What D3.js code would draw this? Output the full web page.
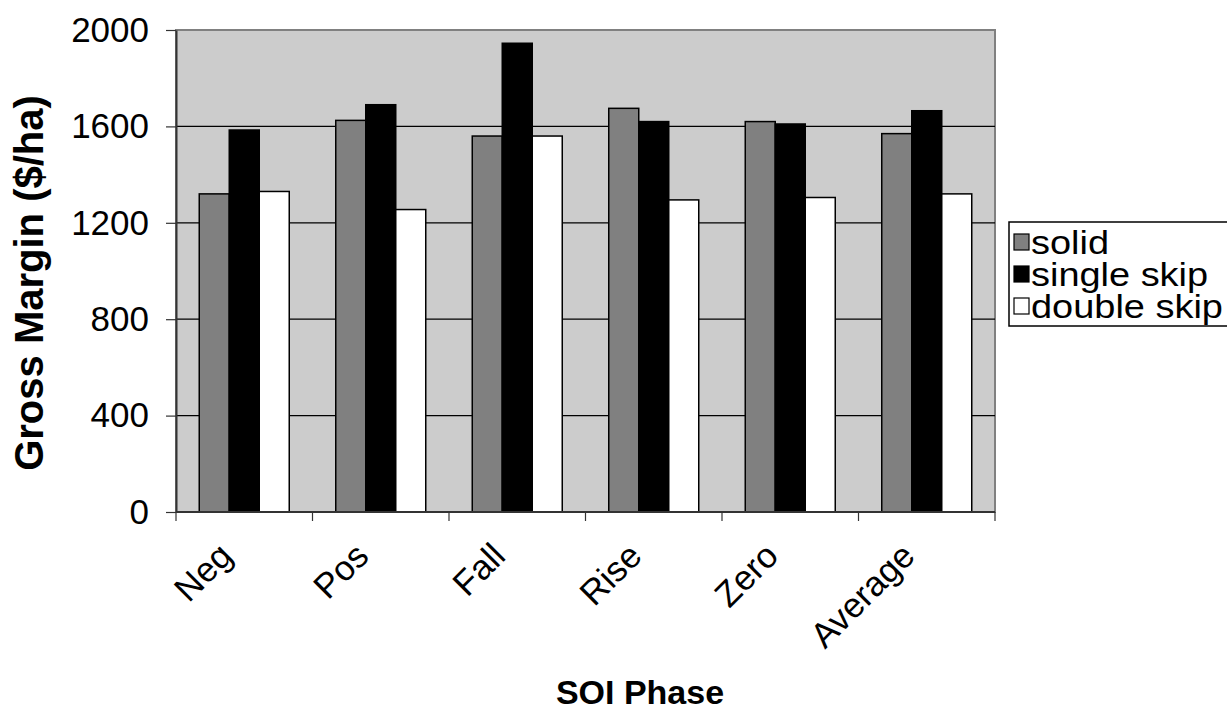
<!DOCTYPE html>
<html>
<head>
<meta charset="utf-8">
<script src="https://cdn.jsdelivr.net/npm/d3@7"></script>
<style>
  body { margin: 0; background: #fff; }
  svg text { font-family: "Liberation Sans", Arial, sans-serif; fill: #000; }
</style>
</head>
<body>
<script>
// SOI phases and gross margin by row configuration
const phases = ["Neg", "Pos", "Fall", "Rise", "Zero", "Average"];
const seriesNames = ["solid", "single skip", "double skip"];
const solid = [1320, 1625, 1560, 1675, 1620, 1570];
const singleSkip = [1585, 1690, 1945, 1620, 1610, 1665];
const doubleSkip = [1330, 1255, 1560, 1295, 1305, 1320];
const yTicks = [0, 400, 800, 1200, 1600, 2000];
const colors = ["#808080", "#000000", "#ffffff"];

const w = 1227, h = 710;
const plotL = 176, plotR = 995, plotT = 30, plotB = 512;

const svg = d3.select("body").append("svg")
  .attr("width", w).attr("height", h);

const rows = phases.map((p, i) => ({phase: p, vals: [solid[i], singleSkip[i], doubleSkip[i]]}));

const x0 = d3.scaleBand().domain(phases).range([plotL, plotR]).padding(0);
const x1 = d3.scaleBand().domain(seriesNames).range([0, x0.bandwidth()])
  .paddingInner(0).paddingOuter(0.775);
const y = d3.scaleLinear().domain([0, 2000]).range([plotB, plotT]);

// plot background
svg.append("rect")
  .attr("x", plotL).attr("y", plotT)
  .attr("width", plotR - plotL).attr("height", plotB - plotT)
  .attr("fill", "#cccccc").attr("stroke", "#808080").attr("stroke-width", 2);

// grid lines
svg.append("g").selectAll("line")
  .data(yTicks.filter(t => t > 0 && t < 2000))
  .enter().append("line")
  .attr("x1", plotL).attr("x2", plotR)
  .attr("y1", d => y(d)).attr("y2", d => y(d))
  .attr("stroke", "#000").attr("stroke-width", 1.2);

// bars
const groups = svg.append("g").selectAll("g")
  .data(rows).enter().append("g")
  .attr("transform", d => "translate(" + x0(d.phase) + ",0)");
groups.selectAll("rect")
  .data(d => d.vals.map((v, j) => ({name: seriesNames[j], v: v, c: colors[j]})))
  .enter().append("rect")
  .attr("x", d => x1(d.name))
  .attr("y", d => y(d.v))
  .attr("width", x1.bandwidth())
  .attr("height", d => y(0) - y(d.v))
  .attr("fill", d => d.c)
  .attr("stroke", "#000").attr("stroke-width", 1.5);

// y axis
const yAxis = svg.append("g")
  .attr("transform", "translate(" + plotL + ",0)")
  .call(d3.axisLeft(y).tickValues(yTicks).tickFormat(d3.format("d"))
    .tickSize(10).tickSizeOuter(0).tickPadding(17));
yAxis.select(".domain").attr("stroke", "#333").attr("stroke-width", 2);
yAxis.selectAll(".tick line").attr("stroke", "#333").attr("stroke-width", 1.2);
yAxis.selectAll("text").style("font-size", "35px").attr("fill", "#000");

// x axis: ticks at category boundaries
const xAxis = svg.append("g")
  .attr("transform", "translate(0," + plotB + ")");
xAxis.append("line").attr("x1", plotL).attr("x2", plotR)
  .attr("stroke", "#333").attr("stroke-width", 2);
xAxis.selectAll(".xt")
  .data(phases.concat(["end"]))
  .enter().append("line")
  .attr("class", "xt")
  .attr("x1", (d, i) => i < phases.length ? x0(d) : plotR)
  .attr("x2", (d, i) => i < phases.length ? x0(d) : plotR)
  .attr("y1", 0).attr("y2", 9)
  .attr("stroke", "#333").attr("stroke-width", 1.2);
xAxis.selectAll(".xl")
  .data(phases).enter().append("text")
  .attr("class", "xl")
  .attr("text-anchor", "end")
  .attr("transform", d => "translate(" + (x0(d) + x0.bandwidth() / 2 - 10) + ",46) rotate(-45)")
  .style("font-size", "35px")
  .text(d => d);

// axis titles
svg.append("text")
  .attr("transform", "translate(43," + ((plotT + plotB) / 2 + 12) + ") rotate(-90)")
  .attr("text-anchor", "middle")
  .style("font-size", "40px").style("font-weight", "bold")
  .text("Gross Margin ($/ha)");
svg.append("text")
  .attr("x", 640).attr("y", 704)
  .attr("text-anchor", "middle")
  .style("font-size", "34px").style("font-weight", "bold")
  .text("SOI Phase");

// legend
const legend = svg.append("g").attr("transform", "translate(1009,222)");
legend.append("rect")
  .attr("x", 0).attr("y", 0).attr("width", 240).attr("height", 104)
  .attr("fill", "#fff").attr("stroke", "#000").attr("stroke-width", 1.5);
const items = legend.selectAll(".li")
  .data(seriesNames).enter().append("g")
  .attr("class", "li")
  .attr("transform", (d, i) => "translate(0," + (20 + i * 32) + ")");
items.append("rect")
  .attr("x", 5).attr("y", -8).attr("width", 15).attr("height", 16)
  .attr("fill", (d, i) => colors[i]).attr("stroke", "#000").attr("stroke-width", 1.2);
items.append("text")
  .attr("transform", "translate(22,12) scale(1.15,1)")
  .style("font-size", "33px")
  .text(d => d);
</script>
</body>
</html>
